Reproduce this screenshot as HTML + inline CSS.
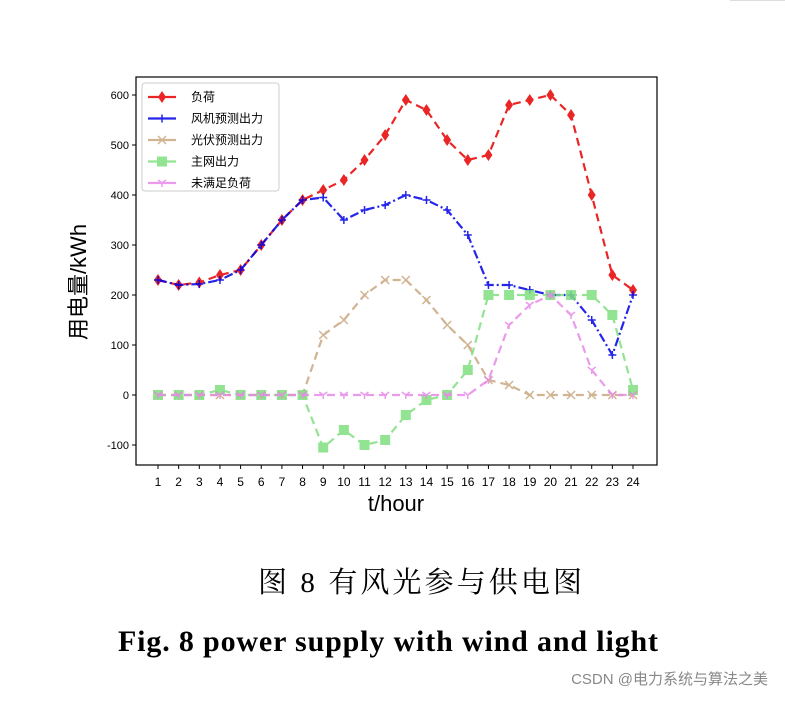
<!DOCTYPE html>
<html><head><meta charset="utf-8"><style>
body{margin:0;background:#fff;width:785px;height:696px;overflow:hidden}
svg text{font-family:"Liberation Sans","Noto Sans CJK SC",sans-serif}
</style></head><body>
<svg id="s" width="785" height="696" xmlns="http://www.w3.org/2000/svg">
<line x1="730" y1="0.5" x2="785" y2="0.5" stroke="#ddd"/>
<rect x="136" y="77" width="521" height="388" fill="#fff" stroke="#000" stroke-width="1.2"/>
<rect x="142" y="83" width="137" height="108" rx="3" fill="#fff" stroke="#ccc"/>
<g id="g"></g>
<text x="86" y="282" font-size="22" transform="rotate(-90 86 282)" text-anchor="middle">用电量/kWh</text>
<text x="396" y="511" font-size="22" text-anchor="middle">t/hour</text>
<text x="258" y="592" font-size="29" textLength="324" lengthAdjust="spacing" style="font-family:'Liberation Serif','Noto Serif CJK SC',serif">图 8  有风光参与供电图</text>
<text x="118" y="651" font-size="30" font-weight="bold" textLength="540" lengthAdjust="spacing" style="font-family:'Liberation Serif',serif">Fig. 8 power supply with wind and light</text>
<text x="768" y="684" font-size="15" fill="#888" text-anchor="end">CSDN @电力系统与算法之美</text>
</svg>
<script>
const g=document.getElementById('g');
const X=i=>158+(i)*475/23, Y=v=>395-v*0.5;
let h='';
for(let v=-100;v<=600;v+=100){h+=`<line x1="132" x2="136" y1="${Y(v)}" y2="${Y(v)}" stroke="#000"/><text x="129" y="${Y(v)+4}" font-size="11" text-anchor="end">${v}</text>`;}
for(let i=0;i<24;i++){h+=`<line x1="${X(i)}" x2="${X(i)}" y1="465" y2="469" stroke="#000"/><text x="${X(i)}" y="486" font-size="12" text-anchor="middle">${i+1}</text>`;}
const D=[
['#e60000',[230,220,225,240,250,300,350,390,410,430,470,520,590,570,510,470,480,580,590,600,560,400,240,210],'8,5','d'],
['#0000e6',[230,220,222,230,250,300,350,390,395,350,370,380,400,390,370,320,220,220,210,200,200,150,80,200],'9,3,2,3','+'],
['#c9a77f',[0,0,0,0,0,0,0,0,120,150,200,230,230,190,140,100,30,20,0,0,0,0,0,0],'8,5','x'],
['#80e080',[0,0,0,10,0,0,0,0,-105,-70,-100,-90,-40,-10,0,50,200,200,200,200,200,200,160,10],'8,5','s'],
['#e88ae8',[0,0,0,0,0,0,0,0,0,0,0,0,0,0,0,0,30,140,180,200,160,50,0,0],'8,5','y']];
function mk(t,c,x,y){
 if(t=='d')return `<polygon points="${x},${y-6} ${x+4},${y} ${x},${y+6} ${x-4},${y}" fill="${c}"/>`;
 if(t=='+')return `<path d="M${x-4},${y}h8M${x},${y-4}v8" stroke="${c}" stroke-width="1.5"/>`;
 if(t=='x')return `<path d="M${x-4},${y-4}l8,8M${x-4},${y+4}l8,-8" stroke="${c}" stroke-width="1.5"/>`;
 if(t=='s')return `<rect x="${x-5}" y="${y-5}" width="10" height="10" fill="${c}"/>`;
 return `<path d="M${x-4},${y-3}L${x},${y}L${x+4},${y-3}M${x},${y}v4" stroke="${c}" stroke-width="1.5" fill="none"/>`;
}
const names=['负荷','风机预测出力','光伏预测出力','主网出力','未满足负荷'];
D.forEach((d,k)=>{const[c,v,da,t]=d;const op=0.85;
 h+=`<g opacity="${op}"><polyline fill="none" stroke="${c}" stroke-width="2.2" stroke-dasharray="${da}" points="${v.map((a,i)=>X(i)+','+Y(a)).join(' ')}"/>`;
 v.forEach((a,i)=>h+=mk(t,c,X(i),Y(a)));h+='</g>';
 const ly=97+k*21.5;
 h+=`<g opacity="${op}"><line x1="148" x2="176" y1="${ly}" y2="${ly}" stroke="${c}" stroke-width="2.2"/>${mk(t,c,162,ly)}</g><text x="191" y="${ly+4}" font-size="12">${names[k]}</text>`;
});
g.innerHTML=h;
</script>
</body></html>
